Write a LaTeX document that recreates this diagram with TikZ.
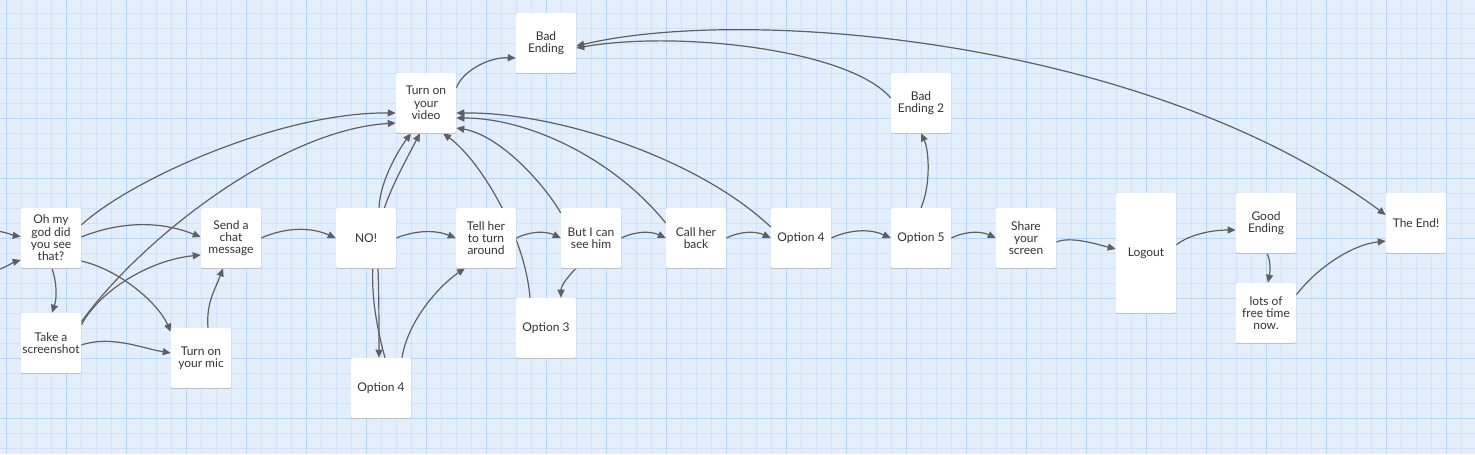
\documentclass[tikz,border=0pt]{standalone}
\usepackage{fontspec}
\setmainfont{Lato}
\usetikzlibrary{calc,arrows.meta,shadows}
\definecolor{bgblue}{RGB}{226,238,252}
\definecolor{gridminor}{RGB}{208,226,250}
\definecolor{gridmajor}{RGB}{182,213,248}
\definecolor{edgegray}{RGB}{95,95,95}
\definecolor{textgray}{RGB}{51,51,51}
\pgfdeclarelayer{gridlayer}
\pgfdeclarelayer{edgelayer}
\pgfsetlayers{gridlayer,edgelayer,main}
\tikzset{
  card/.style={rectangle, fill=white, rounded corners=1pt, minimum width=45pt,
    minimum height=45pt, inner sep=0pt, align=center, text=textgray,
    font=\fontsize{9}{9.2}\selectfont,
    general shadow={fill=black!28, shadow yshift=-0.6pt}},
  tallcard/.style={card, minimum height=90pt},
  conn/.style={draw=edgegray, line width=0.9pt, -{Triangle[length=6pt,width=5.2pt]}},
  conntwo/.style={draw=edgegray, line width=0.9pt, {Triangle[length=6pt,width=5.2pt]}-{Triangle[length=6pt,width=5.2pt]}},
  minorline/.style={draw=gridminor, line width=0.75pt},
  majorline/.style={draw=gridmajor, line width=0.75pt}
}
\begin{document}
\begin{tikzpicture}[x=0.75pt,y=-0.75pt]
\useasboundingbox (0,0) rectangle (1475,454);
\begin{pgfonlayer}{gridlayer}
  \fill[bgblue] (0,0) rectangle (1475,454);
  \foreach \i in {0,...,97} \draw[minorline] ({6.667+15*\i},0) -- ({6.667+15*\i},454);
  \foreach \j in {0,...,29} \draw[minorline] (0,{13.333+15*\j}) -- (1475,{13.333+15*\j});
  \foreach \i in {0,...,24} \draw[majorline] ({6.667+60*\i},0) -- ({6.667+60*\i},454);
  \foreach \j in {1,...,7} \draw[majorline] (0,{-1.667+60*\j}) -- (1475,{-1.667+60*\j});
\end{pgfonlayer}

% nodes
\node[card] (oh) at (51,238) {Oh my\\god did\\you see\\that?};
\node[card] (shot) at (51,343) {Take a\\screenshot};
\node[card] (chat) at (231,238) {Send a\\chat\\message};
\node[card] (mic) at (201,358) {Turn on\\your mic};
\node[card] (no) at (366,238) {NO!};
\node[card] (opt4b) at (381,388) {Option 4};
\node[card] (video) at (426,103) {Turn on\\your\\video};
\node[card] (bad) at (546,43) {Bad\\Ending};
\node[card] (tell) at (486,238) {Tell her\\to turn\\around};
\node[card] (see) at (591,238) {But I can\\see him};
\node[card] (opt3) at (546,328) {Option 3};
\node[card] (call) at (696,238) {Call her\\back};
\node[card] (opt4) at (801,238) {Option 4};
\node[card] (bad2) at (921,103) {Bad\\Ending 2};
\node[card] (opt5) at (921,238) {Option 5};
\node[card] (share) at (1026,238) {Share\\your\\screen};
\node[tallcard] (logout) at (1146,253) {Logout};
\node[card] (good) at (1266,223) {Good\\Ending};
\node[card] (free) at (1266,313) {lots of\\free time\\now.};
\node[card] (theend) at (1416,223) {The End!};

\coordinate (inA) at (0,231.5);
\coordinate (inB) at (0,269);

\begin{pgfonlayer}{edgelayer}
  \draw[conn] (inA) .. controls (8,233) and (14,235.5) .. ($(oh.west)+(0,-1.5)$);
  \draw[conn] (inB) .. controls (8,266) and (14,262) .. ($(oh.west)+(0,22)$);
  \draw[conn] ($(oh.east)+(0,-13)$) .. controls (130,180) and (280,112) .. ($(video.west)+(0,10)$);
  \draw[conn] ($(oh.east)+(0,-1)$) .. controls +(40,-16) and +(-40,-16) .. ($(chat.west)+(0,-1)$);
  \draw[conn] ($(oh.south)+(1,0)$) .. controls +(5,15) and +(5,-15) .. ($(shot.north)+(1,0)$);
  \draw[conn] ($(oh.east)+(0,23)$) .. controls (120,270) and (158,303) .. ($(mic.north west)+(0,4)$);
  \draw[conn] ($(shot.east)+(0,-18)$) .. controls (100,290) and (150,260) .. ($(chat.west)+(0,17)$);
  \draw[conn] ($(shot.east)+(0,-21)$) .. controls (140,240) and (280,130) .. ($(video.west)+(0,20)$);
  \draw[conn] ($(shot.east)+(0,2)$) .. controls +(30,-10) and +(-30,-5) .. ($(mic.west)+(0,-5)$);
  \draw[conn] ($(mic.north)+(7,0)$) .. controls (206,303) and (215,290) .. ($(chat.south)+(-8,0)$);
  \draw[conn] (chat.east) .. controls +(25,-11) and +(-25,-11) .. (no.west);
  \draw[conn] ($(no.north)+(13,0)$) .. controls (380,180) and (400,148) .. ($(video.south)+(-15,0)$);
  \draw[conn] ($(opt4b.north)+(4,0)$) .. controls (355,250) and (385,200) .. ($(video.south)+(-6,0)$);
  \draw[conn] ($(no.south)+(12,0)$) .. controls +(1,30) and +(0,-30) .. ($(opt4b.north)+(-2,0)$);
  \draw[conn] ($(opt4b.north)+(21,0)$) .. controls (408,320) and (440,285) .. ($(tell.south)+(-21,0)$);
  \draw[conn] (no.east) .. controls +(20,-8) and +(-20,-8) .. (tell.west);
  \draw[conn] ($(opt3.north)+(-16,0)$) .. controls (525,235) and (480,160) .. ($(video.south)+(17,0)$);
  \draw[conn] (tell.east) .. controls +(15,-7) and +(-15,-7) .. (see.west);
  \draw[conn] ($(see.south)+(-15,0)$) .. controls +(-8,8) and +(0,-12) .. ($(opt3.north)+(15,0)$);
  \draw[conn] ($(see.west)+(0,-25)$) .. controls (545,185) and (500,135) .. ($(video.east)+(0,25)$);
  \draw[conn] ($(call.west)+(0,-15)$) .. controls (615,160) and (530,118) .. ($(video.east)+(0,15)$);
  \draw[conn] ($(opt4.west)+(0,-11)$) .. controls (700,160) and (560,112) .. ($(video.east)+(0,10)$);
  \draw[conn] (see.east) .. controls +(15,-7) and +(-15,-7) .. (call.west);
  \draw[conn] (call.east) .. controls +(15,-7) and +(-15,-7) .. (opt4.west);
  \draw[conn] (opt4.east) .. controls +(20,-9) and +(-20,-9) .. (opt5.west);
  \draw[conn] (opt5.north) .. controls (931,185) and (929,150) .. (bad2.south);
  \draw[conn] (opt5.east) .. controls +(15,-7) and +(-15,-7) .. (share.west);
  \draw[conn] ($(share.east)+(0,4)$) .. controls +(15,-6) and +(-20,-5) .. ($(logout.west)+(0,-4)$);
  \draw[conn] ($(logout.east)+(0,-8)$) .. controls +(12,-10) and +(-25,0) .. ($(good.west)+(0,7)$);
  \draw[conn] ($(good.south)+(1,0)$) .. controls +(4,8) and +(2,-10) .. ($(free.north)+(2,0)$);
  \draw[conn] ($(free.east)+(0,-18)$) .. controls (1315,270) and (1350,245) .. ($(theend.west)+(0,18)$);
  \draw[conn] ($(video.east)+(0,-15)$) .. controls (463,70) and (490,57) .. ($(bad.west)+(0,15)$);
  \draw[conn] ($(bad2.west)+(0,-5)$) .. controls (850,50) and (680,30) .. ($(bad.east)+(0,5)$);
  \draw[conntwo] ($(bad.east)+(0,3)$) .. controls (750,5) and (1150,40) .. ($(theend.west)+(0,-8)$);
\end{pgfonlayer}
\end{tikzpicture}
\end{document}
